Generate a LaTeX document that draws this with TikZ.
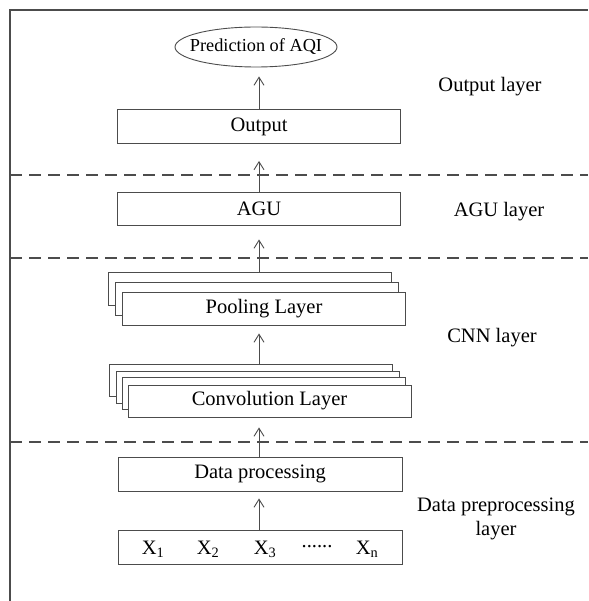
\documentclass[tikz,border=0pt]{standalone}
\usepackage{fontspec}
\setmainfont{Liberation Serif}
\usetikzlibrary{shapes.geometric,arrows.meta}

\tikzset{
  layerbox/.style={draw=black!70, line width=0.9pt, fill=white, inner sep=0pt,
    minimum width=283pt, minimum height=33pt},
  flow/.style={draw=black!70, line width=0.9pt, -{Straight Barb[length=8pt,width=10pt]}},
  sepline/.style={draw=black!70, line width=1.3pt, dash pattern=on 12pt off 7pt},
  layername/.style={align=center}
}

\begin{document}
\begin{tikzpicture}[x=1pt, y=-1pt, font=\fontsize{20.5}{24}\selectfont]
  \useasboundingbox (0,0) rectangle (588,601);

  % --- Frame ---
  \draw[black!70, line width=1.4pt] (10,601) -- (10,10) -- (588,10);

  % --- Layer separators ---
  \draw[sepline] (10,175) -- (588,175);
  \draw[sepline] (10,258) -- (588,258);
  \draw[sepline] (10,442) -- (588,442);

  % --- Output layer ---
  \node[draw=black!70, line width=0.9pt, ellipse, inner xsep=-9pt, inner ysep=0pt,
    minimum width=162pt, minimum height=40pt, font=\fontsize{18.3}{22}\selectfont]
    (aqi) at (256,47) {Prediction of AQI};
  \node[layerbox, minimum height=34pt] (output) at (259,126.5) {Output};

  % --- AGU layer ---
  \node[layerbox] (agu) at (259,208.5) {AGU};

  % --- CNN layer (stacked maps) ---
  \node[layerbox] (poolback) at (250,288.5) {};
  \node[layerbox] (poolmid) at (257,298.5) {};
  \node[layerbox] (pool) at (264,308.5) {Pooling Layer};

  \node[layerbox, minimum height=32pt] (convback) at (250.5,380) {};
  \node[layerbox, minimum height=32pt] (convb) at (257.5,387) {};
  \node[layerbox, minimum height=32pt] (convc) at (263.5,393) {};
  \node[layerbox, minimum height=32pt] (conv) at (269.5,401) {Convolution Layer};

  % --- Data preprocessing layer ---
  \node[layerbox, minimum width=284pt, minimum height=34pt] (dproc) at (260,474) {Data processing};
  \node[layerbox, minimum width=284pt, minimum height=34pt] (xin) at (260,547) {};
  \node (x1) at (153,549) {X\textsubscript{1}};
  \node (x2) at (208,549) {X\textsubscript{2}};
  \node (x3) at (265,549) {X\textsubscript{3}};
  \node (xdots) at (317,547) {......};
  \node (xn) at (367,549) {X\textsubscript{n}};

  % --- Layer names ---
  \node[layername] (outname) at (490,87) {Output layer};
  \node[layername] (aguname) at (499,212) {AGU layer};
  \node[layername] (cnnname) at (492,338) {CNN layer};
  \node[layername] (dataname) at (496,519) {Data preprocessing\\layer};

  % --- Arrows ---
  \draw[flow, shorten >=7pt] (xin.north -| output) -- (dproc.south -| output);
  \draw[flow, shorten >=10pt] (dproc.north -| output) -- (conv.south -| output);
  \draw[flow, shorten >=8pt] (convback.north -| output) -- (pool.south -| output);
  \draw[flow, shorten >=14pt] (poolback.north -| output) -- (agu.south);
  \draw[flow, shorten >=17pt] (agu.north) -- (output.south);
  \draw[flow, shorten >=9pt] (output.north) -- (aqi.south -| output);

\end{tikzpicture}
\end{document}
